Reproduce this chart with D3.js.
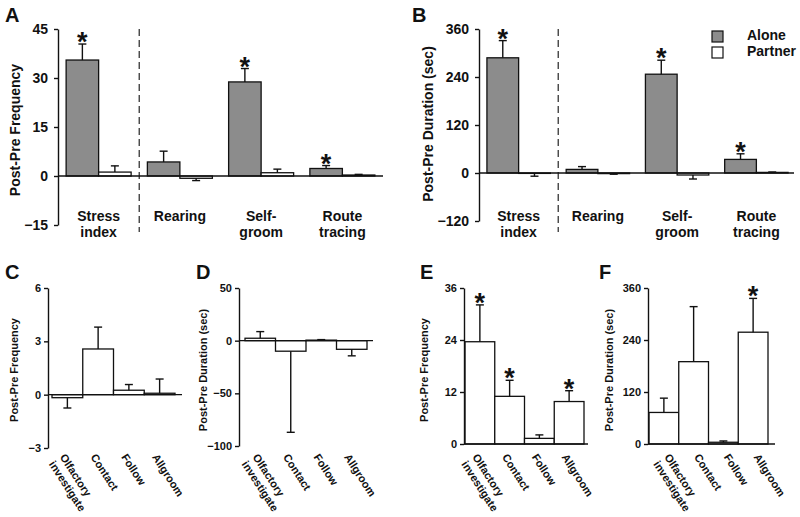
<!DOCTYPE html>
<html><head><meta charset="utf-8">
<script src="https://cdn.jsdelivr.net/npm/d3@7"></script>
<style>
body{margin:0;background:#fff}
text{font-family:"Liberation Sans",Arial,sans-serif;font-weight:bold;fill:#111}
</style>
</head><body><svg id="c" width="800" height="517"></svg>
<script>
// ---------- Panels A & B ----------
const behaviorsAB = ["Stress index","Rearing","Self-groom","Route tracing"];
const behaviorLinesAB = [["Stress","index"],["Rearing"],["Self-","groom"],["Route","tracing"]];
const seriesNames = ["Alone","Partner"];
const freqAlone      = [35.5, 4.3, 28.8, 2.3];
const freqAloneSEM   = [4.9, 3.3, 4.1, 0.9];
const freqPartner    = [1.2, -0.7, 1.0, 0.3];
const freqPartnerSEM = [1.9, 0.7, 1.1, 0.2];
const freqAloneSig   = [true, false, true, true];
const durAlone       = [288, 9, 247, 34];
const durAloneSEM    = [43, 7, 35, 14];
const durPartner     = [-1, -1.5, -5, 1.5];
const durPartnerSEM  = [7, 1.5, 10, 1];
const durAloneSig    = [true, false, true, true];
const ticksA = [-15, 0, 15, 30, 45];
const ticksB = [-120, 0, 120, 240, 360];

// ---------- Panels C-F ----------
const socialBehaviors = ["Olfactory investigate","Contact","Follow","Allgroom"];
const socialLines = [["Olfactory","investigate"],["Contact"],["Follow"],["Allgroom"]];
const freqC    = [-0.17, 2.57, 0.25, 0.08];
const freqCSEM = [0.58, 1.23, 0.32, 0.8];
const durD     = [2.3, -10, 0.5, -8.2];
const durDSEM  = [6.3, 77, 0.5, 6.2];
const freqE    = [23.6, 11, 1.3, 9.8];
const freqESEM = [8.5, 3.7, 0.8, 2.5];
const sigE     = [true, true, false, true];
const durF     = [72.8, 190, 4, 258];
const durFSEM  = [33, 127, 3, 78];
const sigF     = [false, false, false, true];
const ticksC = [-3, 0, 3, 6];
const ticksD = [-100, -50, 0, 50];
const ticksE = [0, 12, 24, 36];
const ticksF = [0, 120, 240, 360];

const GRAY = "#8c8c8c", INK = "#111";
const svg = d3.select("#c");

function letter(t, x, y){
  svg.append("text").attr("x", x).attr("y", y).attr("font-size", 20).text(t);
}
function yAxis(g, y, ticks, x, fs, pad){
  const ax = g.append("g").attr("transform", `translate(${x},0)`)
    .call(d3.axisLeft(y).tickValues(ticks).tickSize(4).tickSizeOuter(0).tickPadding(pad).tickFormat(d3.format("d")));
  ax.selectAll("path,line").attr("stroke", INK).attr("stroke-width", 1.4);
  ax.selectAll("text").attr("font-size", fs).attr("font-family", "Liberation Sans, Arial, sans-serif").attr("font-weight", "bold").attr("fill", INK);
}
function yLabel(t, x, yc, fs){
  svg.append("text").attr("transform", `translate(${x},${yc}) rotate(-90)`)
    .attr("text-anchor", "middle").attr("font-size", fs).text(t);
}
function errBar(g, cx, y, v, e, cap){
  const s = v >= 0 ? 1 : -1;
  const y1 = y(v), y2 = y(v + s * e);
  g.append("line").attr("x1", cx).attr("x2", cx).attr("y1", y1).attr("y2", y2).attr("stroke", INK).attr("stroke-width", 1.4);
  g.append("line").attr("x1", cx - cap/2).attr("x2", cx + cap/2).attr("y1", y2).attr("y2", y2).attr("stroke", INK).attr("stroke-width", 1.4);
  return y2;
}
function star(g, cx, yTop){
  g.append("text").attr("x", cx).attr("y", yTop + 7).attr("text-anchor", "middle").attr("font-size", 27).text("*");
}

function groupedPanel(cfg){
  const g = svg.append("g");
  const y = d3.scaleLinear().domain(cfg.domain).range([cfg.yBottom, cfg.yTop]);
  const x0 = d3.scaleBand().domain(behaviorsAB).range([cfg.axisX, cfg.bandEnd]).paddingInner(0.2).paddingOuter(0.1);
  const x1 = d3.scaleBand().domain(seriesNames).range([0, x0.bandwidth()]);
  const series = [
    {name: "Alone", vals: cfg.alone, sem: cfg.aloneSem, sig: cfg.sig, fill: GRAY},
    {name: "Partner", vals: cfg.partner, sem: cfg.partnerSem, sig: null, fill: "#fff"}
  ];
  // dashed separator
  const dx = x0(behaviorsAB[1]) - x0.step() * x0.paddingInner() / 2;
  g.append("line").attr("x1", dx).attr("x2", dx).attr("y1", cfg.yTop).attr("y2", cfg.dashEnd)
    .attr("stroke", "#444").attr("stroke-width", 1.4).attr("stroke-dasharray", "7,4");
  series.forEach(s => {
    behaviorsAB.forEach((c, i) => {
      const bx = x0(c) + x1(s.name), bw = x1.bandwidth();
      const v = s.vals[i];
      g.append("rect").attr("x", bx).attr("width", bw)
        .attr("y", Math.min(y(v), y(0))).attr("height", Math.abs(y(v) - y(0)))
        .attr("fill", s.fill).attr("stroke", INK).attr("stroke-width", 1.3);
      const top = errBar(g, bx + bw/2, y, v, s.sem[i], 8);
      if (s.sig && s.sig[i]) star(g, bx + bw/2, top);
    });
  });
  g.append("line").attr("x1", cfg.axisX).attr("x2", cfg.zeroEnd).attr("y1", y(0)).attr("y2", y(0))
    .attr("stroke", INK).attr("stroke-width", 1.4);
  yAxis(g, y, cfg.ticks, cfg.axisX, 14, 6);
  behaviorsAB.forEach((c, i) => {
    const t = g.append("text").attr("text-anchor", "middle").attr("font-size", 14)
      .attr("x", x0(c) + x0.bandwidth()/2).attr("y", cfg.labelY);
    behaviorLinesAB[i].forEach((ln, j) => {
      t.append("tspan").attr("x", x0(c) + x0.bandwidth()/2).attr("dy", j ? 16 : 0).text(ln);
    });
  });
  yLabel(cfg.ylabel, cfg.ylabelX, cfg.ylabelY, 14);
  letter(cfg.letter, cfg.lx, cfg.ly);
}

function singlePanel(cfg){
  const g = svg.append("g");
  const y = d3.scaleLinear().domain(cfg.domain).range([cfg.yBottom, cfg.yTop]);
  const x = d3.scaleBand().domain(socialBehaviors).range([cfg.bandStart, cfg.bandEnd]).padding(0);
  socialBehaviors.forEach((c, i) => {
    const v = cfg.vals[i], bx = x(c), bw = x.bandwidth();
    g.append("rect").attr("x", bx).attr("width", bw)
      .attr("y", Math.min(y(v), y(0))).attr("height", Math.abs(y(v) - y(0)))
      .attr("fill", "#fff").attr("stroke", INK).attr("stroke-width", 1.3);
    const top = errBar(g, bx + bw/2, y, v, cfg.sem[i], 8);
    if (cfg.sig && cfg.sig[i]) star(g, bx + bw/2, top);
  });
  g.append("line").attr("x1", cfg.axisX).attr("x2", cfg.zeroEnd).attr("y1", y(0)).attr("y2", y(0))
    .attr("stroke", INK).attr("stroke-width", 1.4);
  yAxis(g, y, cfg.ticks, cfg.axisX, 11, 3);
  socialBehaviors.forEach((c, i) => {
    const cx = x(c) + x.bandwidth()/2 + cfg.labelDx;
    const t = g.append("text").attr("font-size", 11)
      .attr("transform", `translate(${cx},${cfg.labelY}) rotate(57)`);
    socialLines[i].forEach((ln, j) => {
      t.append("tspan").attr("x", 0).attr("dy", j ? 13 : 0).text(ln);
    });
  });
  yLabel(cfg.ylabel, cfg.ylabelX, cfg.ylabelY, 11);
  letter(cfg.letter, cfg.lx, cfg.ly);
}

groupedPanel({letter: "A", lx: 5, ly: 22, axisX: 58, bandEnd: 383, zeroEnd: 383, yTop: 29, yBottom: 225, dashEnd: 232,
  domain: [-15, 45], ticks: ticksA, alone: freqAlone, aloneSem: freqAloneSEM, partner: freqPartner, partnerSem: freqPartnerSEM,
  sig: freqAloneSig, labelY: 221, ylabel: "Post-Pre Frequency", ylabelX: 20, ylabelY: 130});
groupedPanel({letter: "B", lx: 412, ly: 22, axisX: 479, bandEnd: 796, zeroEnd: 794, yTop: 29, yBottom: 221, dashEnd: 232,
  domain: [-120, 360], ticks: ticksB, alone: durAlone, aloneSem: durAloneSEM, partner: durPartner, partnerSem: durPartnerSEM,
  sig: durAloneSig, labelY: 221, ylabel: "Post-Pre Duration (sec)", ylabelX: 433, ylabelY: 124});

// legend
const legend = svg.append("g");
[["Alone", GRAY], ["Partner", "#fff"]].forEach((d, i) => {
  legend.append("rect").attr("x", 712).attr("y", 31 + i * 16).attr("width", 11).attr("height", 11)
    .attr("fill", d[1]).attr("stroke", INK).attr("stroke-width", 1.2);
  legend.append("text").attr("x", 747).attr("y", 40 + i * 16).attr("font-size", 14).text(d[0]);
});

singlePanel({letter: "C", lx: 5, ly: 279, axisX: 48, bandStart: 52, bandEnd: 175, zeroEnd: 182, yTop: 288, yBottom: 448,
  domain: [-3, 6], ticks: ticksC, vals: freqC, sem: freqCSEM, sig: null, labelY: 457, labelDx: -8,
  ylabel: "Post-Pre Frequency", ylabelX: 18, ylabelY: 370});
singlePanel({letter: "D", lx: 196, ly: 279, axisX: 239, bandStart: 245, bandEnd: 367, zeroEnd: 373, yTop: 288, yBottom: 446,
  domain: [-100, 50], ticks: ticksD, vals: durD, sem: durDSEM, sig: null, labelY: 457, labelDx: -8,
  ylabel: "Post-Pre Duration (sec)", ylabelX: 207, ylabelY: 370});
singlePanel({letter: "E", lx: 420, ly: 279, axisX: 464, bandStart: 465, bandEnd: 584, zeroEnd: 588, yTop: 288, yBottom: 444,
  domain: [0, 36], ticks: ticksE, vals: freqE, sem: freqESEM, sig: sigE, labelY: 457, labelDx: -8,
  ylabel: "Post-Pre Frequency", ylabelX: 428, ylabelY: 370});
singlePanel({letter: "F", lx: 599, ly: 279, axisX: 648, bandStart: 649, bandEnd: 768, zeroEnd: 775, yTop: 288, yBottom: 444,
  domain: [0, 360], ticks: ticksF, vals: durF, sem: durFSEM, sig: sigF, labelY: 457, labelDx: 0,
  ylabel: "Post-Pre Duration (sec)", ylabelX: 613, ylabelY: 370});
</script>
</body></html>
